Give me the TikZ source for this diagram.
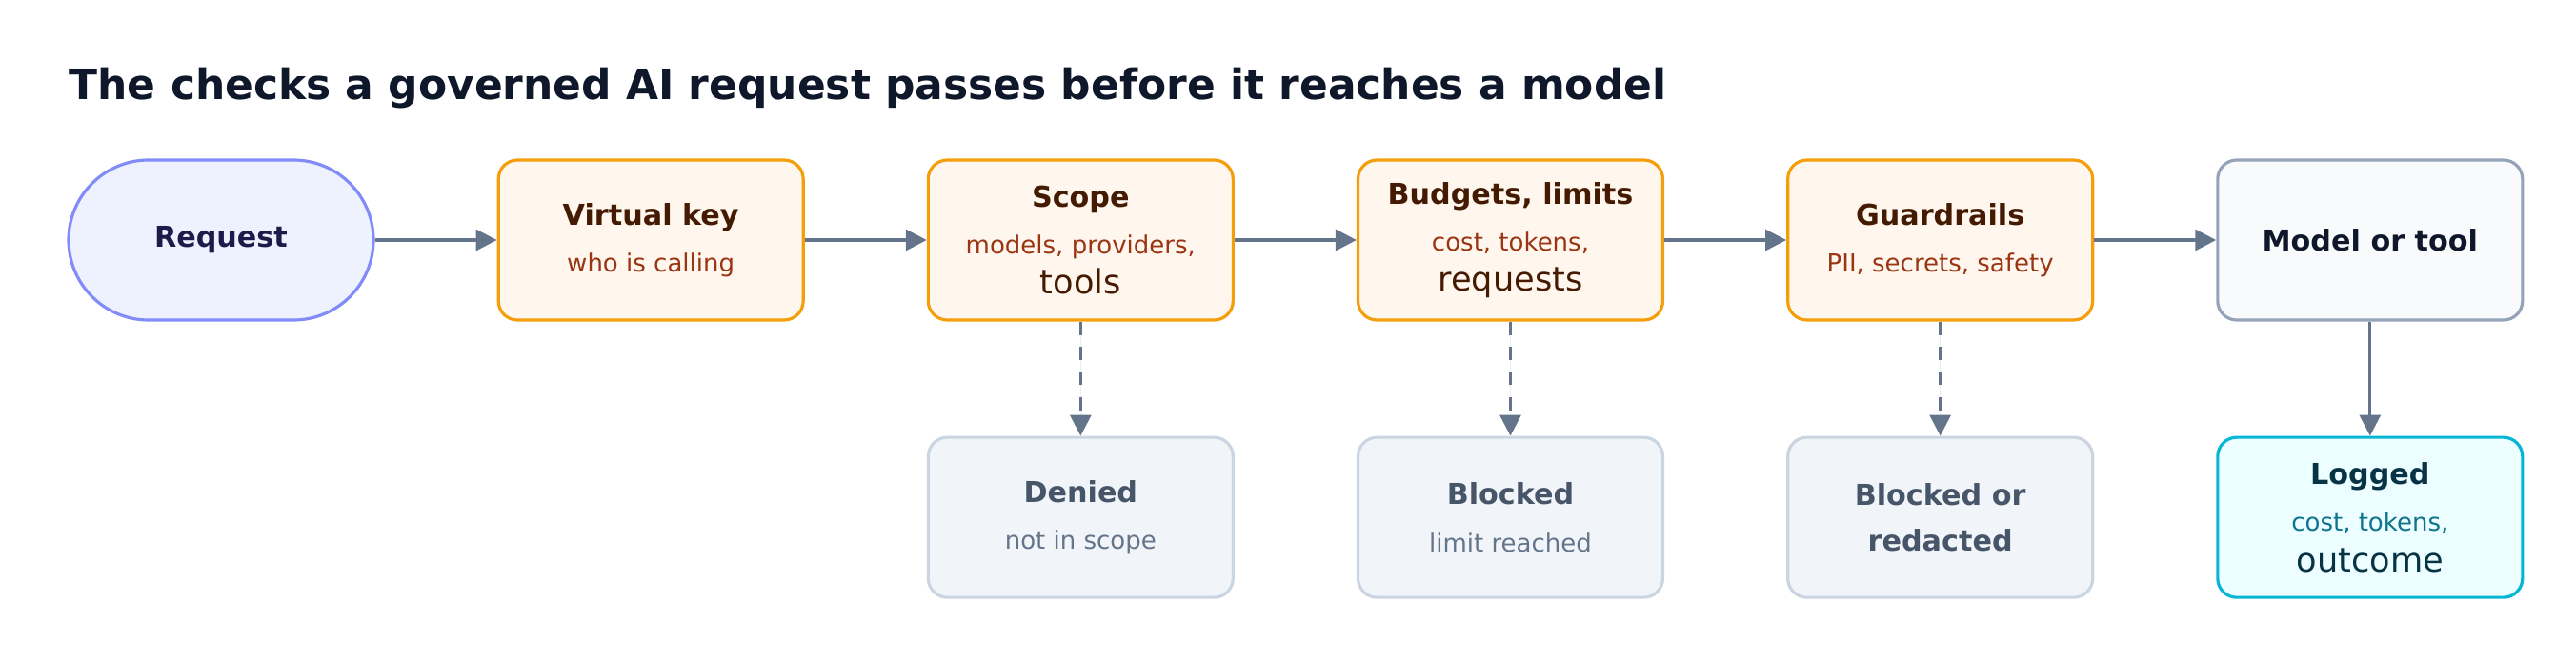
\documentclass[tikz,border=0pt]{standalone}
\usepackage{fontspec}
\setmainfont{DejaVu Sans}
\usetikzlibrary{positioning,arrows.meta}
\definecolor{aArrow}{HTML}{64748B}
\definecolor{aReqFill}{HTML}{EEF2FF}
\definecolor{aReqDraw}{HTML}{818CF8}
\definecolor{aReqText}{HTML}{1E1B4B}
\definecolor{aChkFill}{HTML}{FFF7ED}
\definecolor{aChkDraw}{HTML}{F59E0B}
\definecolor{aChkText}{HTML}{451A03}
\definecolor{aChkSub}{HTML}{9A3412}
\definecolor{aEndFill}{HTML}{F8FAFC}
\definecolor{aEndDraw}{HTML}{94A3B8}
\definecolor{aEndText}{HTML}{0F172A}
\definecolor{aDenFill}{HTML}{F1F5F9}
\definecolor{aDenDraw}{HTML}{CBD5E1}
\definecolor{aDenText}{HTML}{475569}
\definecolor{aDenSub}{HTML}{64748B}
\definecolor{aLogFill}{HTML}{ECFEFF}
\definecolor{aLogDraw}{HTML}{06B6D4}
\definecolor{aLogText}{HTML}{083344}
\definecolor{aLogSub}{HTML}{0E7490}
\newcommand{\boxhead}[1]{{\fontsize{8.6}{11}\selectfont\bfseries #1}}
\newcommand{\boxsub}[2]{\\[2pt]\fontsize{7.4}{10.5}\selectfont\color{#1}#2}
\begin{document}
\begin{tikzpicture}[>={Triangle[length=0.22cm,width=0.22cm]}]
		\tikzstyle{BOX} = [line width=0.9pt, rounded corners=0.2cm, minimum width=3.2cm, minimum height=1.68cm, align=center, inner sep=0pt]
		\tikzstyle{req} = [BOX, rounded corners=0.84cm, draw=aReqDraw, fill=aReqFill, text=aReqText]
		\tikzstyle{check} = [BOX, draw=aChkDraw, fill=aChkFill, text=aChkText]
		\tikzstyle{target} = [BOX, draw=aEndDraw, fill=aEndFill, text=aEndText]
		\tikzstyle{deny} = [BOX, draw=aDenDraw, fill=aDenFill, text=aDenText]
		\tikzstyle{logged} = [BOX, draw=aLogDraw, fill=aLogFill, text=aLogText]
		\tikzstyle{flow} = [->, line width=0.9pt, draw=aArrow, fill=aArrow]
		\tikzstyle{head} = [font=\fontsize{8.6}{11}\selectfont\bfseries]

		\useasboundingbox (0,0) rectangle (27.04,-6.96);
		\node[anchor=west, font=\fontsize{12.5}{15}\selectfont\bfseries, text=aEndText, inner sep=0pt] (title) at (0.72,-0.93) {The checks a governed AI request passes before it reaches a model};

		\node[req, head] (request) at (2.32,-2.52) {Request};
		\node[check, right=1.28cm of request] (vkey) {\boxhead{Virtual key}\boxsub{aChkSub}{who is calling}};
		\node[check, right=1.28cm of vkey] (scope) {\boxhead{Scope}\boxsub{aChkSub}{models, providers,\\tools}};
		\node[check, right=1.28cm of scope] (budget) {\boxhead{Budgets, limits}\boxsub{aChkSub}{cost, tokens,\\requests}};
		\node[check, right=1.28cm of budget] (guard) {\boxhead{Guardrails}\boxsub{aChkSub}{PII, secrets, safety}};
		\node[target, head, right=1.28cm of guard] (model) {Model or tool};

		\node[deny, below=1.2cm of scope] (denied) {\boxhead{Denied}\boxsub{aDenSub}{not in scope}};
		\node[deny, below=1.2cm of budget] (blocked) {\boxhead{Blocked}\boxsub{aDenSub}{limit reached}};
		\node[deny, below=1.2cm of guard, font=\fontsize{8.6}{13.5}\selectfont\bfseries] (redact) {Blocked or\\redacted};
		\node[logged, below=1.2cm of model] (log) {\boxhead{Logged}\boxsub{aLogSub}{cost, tokens,\\outcome}};

		\draw[flow] (request) -- (vkey);
		\draw[flow] (vkey) -- (scope);
		\draw[flow] (scope) -- (budget);
		\draw[flow] (budget) -- (guard);
		\draw[flow] (guard) -- (model);
		\draw[flow, dash pattern=on 4pt off 3.5pt] (scope) -- (denied);
		\draw[flow, dash pattern=on 4pt off 3.5pt] (budget) -- (blocked);
		\draw[flow, dash pattern=on 4pt off 3.5pt] (guard) -- (redact);
		\draw[flow] (model) -- (log);
\end{tikzpicture}
\end{document}
